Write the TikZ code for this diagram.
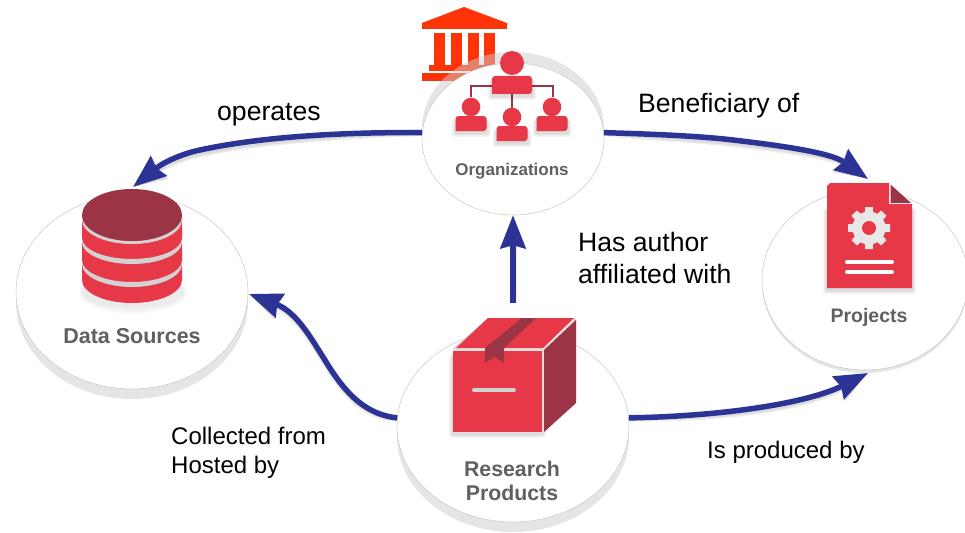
\documentclass[tikz,border=0pt]{standalone}
\usepackage{fontspec}
\setmainfont{Liberation Sans}
\usetikzlibrary{shapes.geometric,arrows.meta}
\definecolor{ired}{HTML}{E73847}
\definecolor{idark}{HTML}{9B3545}
\definecolor{flow}{HTML}{2B3395}
\definecolor{bank}{HTML}{FF3308}
\definecolor{capt}{HTML}{606060}
\definecolor{band}{HTML}{D2D2D2}
\tikzset{
  disc/.style={shape=ellipse,draw=black!22,line width=0.5pt,fill=white,inner sep=0pt,minimum width=#1},
  base/.style={shape=ellipse,fill=black!10,inner sep=0pt,minimum width=#1},
  flowline/.style={draw=flow,line width=5.5pt,-{Stealth[length=33pt,width=25pt,inset=3pt]}},
  flowshade/.style={draw=black,line width=#1,opacity=.07,-{Stealth[length=33pt,width=25pt,inset=3pt]},shift={(1,3.5)}},
  rel/.style={font=\fontsize{26.6}{30}\selectfont,anchor=west,inner sep=0pt},
  relsmall/.style={font=\fontsize{24}{30}\selectfont,anchor=west,inner sep=0pt},
  capt/.style={font=\bfseries\fontsize{#1}{24}\selectfont,text=capt,inner sep=0pt,align=center},
  person/.style={fill=ired},
  linkline/.style={draw=idark,line width=2.5pt}
}
\newcommand{\softbox}[4]{%
  \foreach \g in {1,2,3,4}{\fill[black,opacity=.035,rounded corners=2pt] (#1-\g,#2+\g+1) rectangle (#3+\g,#4+\g+2);}}
\newcommand{\flowpath}[1]{%
  \draw[flowshade=4pt] #1;\draw[flowshade=7pt] #1;\draw[flowline] #1;}
\newcommand{\personicon}[2]{%
  \softbox{#1-15.5}{#2+9}{#1+15.5}{#2+24}
  \fill[person] (#1,#2) circle (9.3);
  \fill[person,rounded corners=3pt] (#1-15.5,#2+24) -- (#1-15.5,#2+9) -- (#1+15.5,#2+9) -- (#1+15.5,#2+24) [sharp corners] -- cycle;}
\newcommand{\cylband}[4]{% outer centre y, outer ry, inner centre y, inner ry
  \fill[band] (82,#1) arc[start angle=180,end angle=0,x radius=50,y radius=#2] -- (182,#3) arc[start angle=0,end angle=180,x radius=50,y radius=#4] -- cycle;}
\begin{document}
\begin{tikzpicture}[x=1pt,y=-1pt]
\useasboundingbox (0,0) rectangle (965,532);
\clip (0,0) rectangle (965,532);

% bank
\fill[bank] (464,7) -- (507,23) -- (507,29) -- (422,29) -- (422,23) -- cycle;
\foreach \cx in {439.5,456.5,473.5,489.5}{\fill[bank] (\cx-5.5,33) rectangle (\cx+5.5,66);}
\fill[bank] (429,65) rectangle (500,71);
\fill[bank] (422,73) rectangle (507,81);

% discs
\node[base=232pt,minimum height=194pt] at (132,302) {};
\node[disc=232pt,minimum height=194pt] (ds) at (132,292) {};
\node[shape=ellipse,fill=black!20,opacity=.5,inner sep=0pt,minimum width=182pt,minimum height=152pt] at (513,128) {};
\node[disc=182pt,minimum height=152pt] (org) at (513,139) {};
\node[base=206pt,minimum height=180pt] at (865,283) {};
\node[disc=206pt,minimum height=180pt] (proj) at (865,280) {};
\node[base=232pt,minimum height=192pt] at (513,436) {};
\node[disc=232pt,minimum height=192pt] (res) at (513,426) {};

% organizations icon
\draw[linkline] (471,97) -- (471,86) -- (553,86) -- (553,97);
\draw[linkline] (512,90) -- (512,108);
\softbox{492}{76}{532}{94}
\fill[person] (512,63) circle (12);
\fill[person,rounded corners=3pt] (492,94) -- (492,76) -- (532,76) -- (532,94) [sharp corners] -- cycle;
\personicon{471}{107}
\personicon{552}{107}
\personicon{512}{117}
\node[capt=17] (orgtxt) at (512,171) {Organizations};

% data source cylinder
\foreach \g in {1,2,3,4}{\fill[black,opacity=.02] (133,292) ellipse [x radius=50+\g,y radius=14+\g*2];}
\fill[ired] (82,215) -- (82,280) arc[start angle=180,end angle=0,x radius=50,y radius=23] -- (182,215) -- cycle;
\cylband{220}{24}{215}{26}
\cylband{242}{22}{238}{21}
\cylband{264}{23}{260}{22}
\fill[idark] (132,215) ellipse [x radius=50,y radius=26];
\node[capt=21.5] (dstxt) at (132,336) {Data Sources};

% project document
\softbox{827}{205}{912}{288}
\fill[ired] (827,186) -- (830,183) -- (889,183) -- (889,204) -- (912,204) -- (912,288) -- (827,288) -- cycle;
\fill[idark] (890.5,184.5) -- (890.5,203) -- (911,203) -- cycle;
\foreach \a in {0,45,...,315}{\fill[black!9,rotate around={\a:(869,228)}] (865.2,207) -- (872.8,207) -- (874,228) -- (864,228) -- cycle;}
\fill[black!9] (869,228) circle (16.5);
\fill[ired] (869,228) circle (7);
\draw[white,line width=4pt,line cap=round] (847,262) -- (892,262);
\draw[white,line width=4pt,line cap=round] (847,272) -- (892,272);
\node[capt=19.5] (projtxt) at (869,317) {Projects};

% research box
\softbox{453}{351}{542}{432}
\fill[black!12] (453,348) -- (488,318) -- (576,318) -- (576,403) -- (543,433) -- (453,433) -- cycle;
\fill[ired] (453,351) rectangle (542,432);
\fill[ired] (456,348) -- (488,318) -- (574,318) -- (543,348) -- cycle;
\fill[idark] (544,350) -- (576,320) -- (576,403) -- (544,432) -- cycle;
\fill[idark] (522,318) -- (536,318) -- (504,348) -- (504,363) -- (495,357) -- (485,363) -- (485,348) -- cycle;
\draw[band,line width=4pt,line cap=round] (474,390) -- (514,390);
\node[capt=21.3,text width=120pt] (restxt) at (512,481) {Research\\[0pt]Products};

% connector ends
\coordinate (dstip) at (133,187);
\coordinate (projtip) at (868,179);
\coordinate (projlow) at (868,373);
\coordinate (resup) at (513,303);
\coordinate (dsend) at (249,294);

% connectors
\flowpath{(org.176) .. controls (340,132) and (260,137) .. (200,150) .. controls (185,153) and (165,161) .. (dstip)}
\flowpath{(org.4) .. controls (650,134) and (700,136) .. (733,140) .. controls (775,145) and (830,152) .. (projtip)}
\flowpath{(resup) -- (org.south)}
\flowpath{(res.176) .. controls (360,414) and (340,385) .. (323,357) .. controls (312,340) and (297,312) .. (dsend)}
\flowpath{(res.4) .. controls (730,416) and (810,402) .. (projlow)}

% labels
\node[rel] (l1) at (217,115) {operates};
\node[rel] (l2) at (638,106) {Beneficiary of};
\node[rel] (l3) at (578,242) {Has author};
\node[rel] (l4) at (578,274) {affiliated with};
\node[relsmall] (l5) at (171,436) {Collected from};
\node[relsmall] (l6) at (171,467) {Hosted by};
\node[relsmall] (l7) at (707,452) {Is produced by};
\end{tikzpicture}
\end{document}
